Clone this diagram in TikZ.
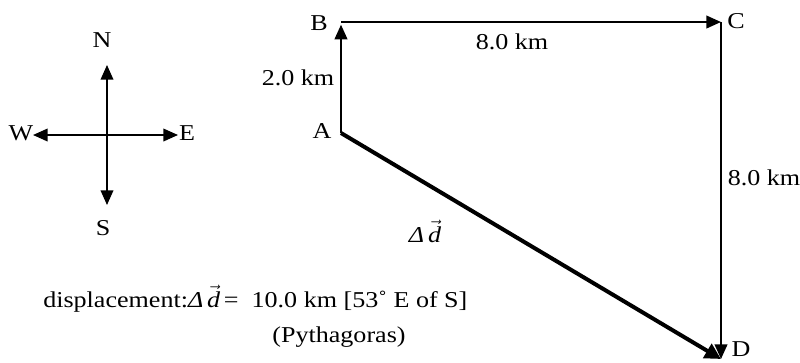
\documentclass[tikz,border=0pt]{standalone}
\usepackage{fontspec}
\setmainfont{Liberation Serif}[FakeStretch=1.15]
\usetikzlibrary{arrows.meta}
\tikzset{
  lbl/.style={inner sep=0pt, font=\fontsize{17pt}{20pt}\selectfont},
  thin vec/.style={line width=1.2pt, -{Triangle[length=11pt, width=9.5pt]}},
  path vec/.style={line width=1.5pt, -{Triangle[length=11pt, width=9.5pt]}},
  big vec/.style={line width=3pt, -{Triangle[length=12pt, width=12pt]}},
}
\begin{document}
\begin{tikzpicture}[x=0.75pt, y=-0.75pt]
\useasboundingbox (0,0) rectangle (800,362);
% compass
\coordinate (O) at (107,135);
\coordinate (Nt) at (107,65);
\coordinate (St) at (107,205);
\coordinate (Wt) at (33,135);
\coordinate (Et) at (178,135);
\draw[thin vec] (O) -- (Nt);
\draw[thin vec] (O) -- (St);
\draw[thin vec] (O) -- (Wt);
\draw[thin vec] (O) -- (Et);
\node[lbl] (lN) at (102,40) {N};
\node[lbl] (lS) at (103,228) {S};
\node[lbl] (lW) at (21,133) {W};
\node[lbl] (lE) at (187,133) {E};
% path
\coordinate (A) at (341,133);
\coordinate (B) at (341,22);
\coordinate (C) at (721,22);
\coordinate (D) at (721,359);
\draw[path vec, shorten >=2pt] (A) -- (B);
\draw[path vec] (B) -- (C);
\draw[path vec] (C) -- (D);
\draw[big vec] (A) -- (D);
\node[lbl] (lA) at (322,131) {A};
\node[lbl] (lB) at (319,23) {B};
\node[lbl] (lC) at (736,21) {C};
\node[lbl] (lD) at (741,349) {D};
\node[lbl] (dAB) at (298,78) {2.0 km};
\node[lbl] (dBC) at (512,42) {8.0 km};
\node[lbl] (dCD) at (764,178) {8.0 km};
\node[lbl] (dAD) at (425,231) {\textit{Δ}\,$\vec{\textit{d}}$};
% result
\node[lbl, anchor=base west] (res) at (43,307) {displacement:\textit{Δ}\,$\vec{\textit{d}}$\,=\ \ 10.0 km [53˚ E of S]};
\node[lbl, anchor=base] (pyth) at (339,342) {(Pythagoras)};
\end{tikzpicture}
\end{document}
